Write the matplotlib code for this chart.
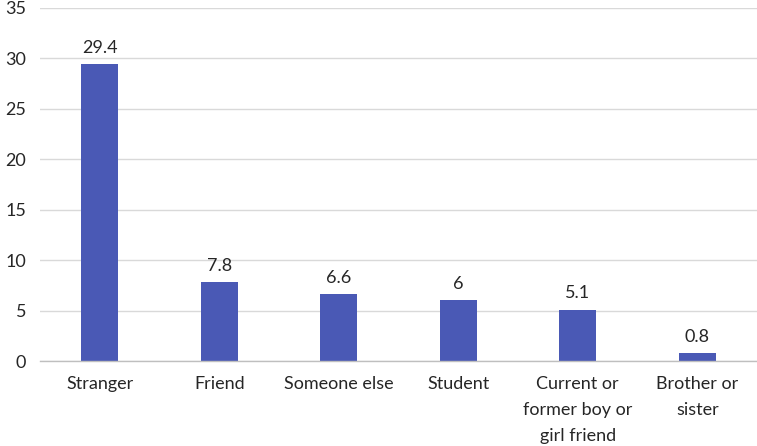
import matplotlib.pyplot as plt
import numpy as np

categories = ["Stranger", "Friend", "Someone else", "Student",
              "Current or\nformer boy or\ngirl friend", "Brother or\nsister"]
values = [29.4, 7.8, 6.6, 6, 5.1, 0.8]
labels = ["29.4", "7.8", "6.6", "6", "5.1", "0.8"]
yticks = [0, 5, 10, 15, 20, 25, 30, 35]

plt.rcParams['font.family'] = ['Lato', 'DejaVu Sans']

fig = plt.figure(figsize=(7.57, 4.46), dpi=100)
ax = fig.add_axes([40 / 757, 1 - 361 / 446, 717 / 757, (361 - 8) / 446])

x = np.arange(len(categories))
ax.bar(x, values, width=0.31, color="#4A59B5", zorder=3)

for xi, v, lab in zip(x, values, labels):
    ax.annotate(lab, (xi, v), xytext=(0, 6), textcoords="offset points",
                ha="center", va="bottom", fontsize=13, color="#262626")

ax.set_xlim(-0.5, len(categories) - 0.5)
ax.set_ylim(0, 35)
ax.set_yticks(yticks)
ax.set_xticks(x)
ax.set_xticklabels(categories, fontsize=13, color="#262626", linespacing=1.75)
ax.tick_params(axis="y", labelsize=13, labelcolor="#262626", length=0, pad=10)
ax.tick_params(axis="x", length=0, pad=11)

ax.grid(axis="y", color="#D9D9D9", linewidth=1, zorder=0)
for s in ["top", "right", "left"]:
    ax.spines[s].set_visible(False)
ax.spines["bottom"].set_color("#BFBFBF")
ax.spines["bottom"].set_linewidth(1)
ax.spines["bottom"].set_zorder(4)

fig.savefig("out.png", dpi=100)
